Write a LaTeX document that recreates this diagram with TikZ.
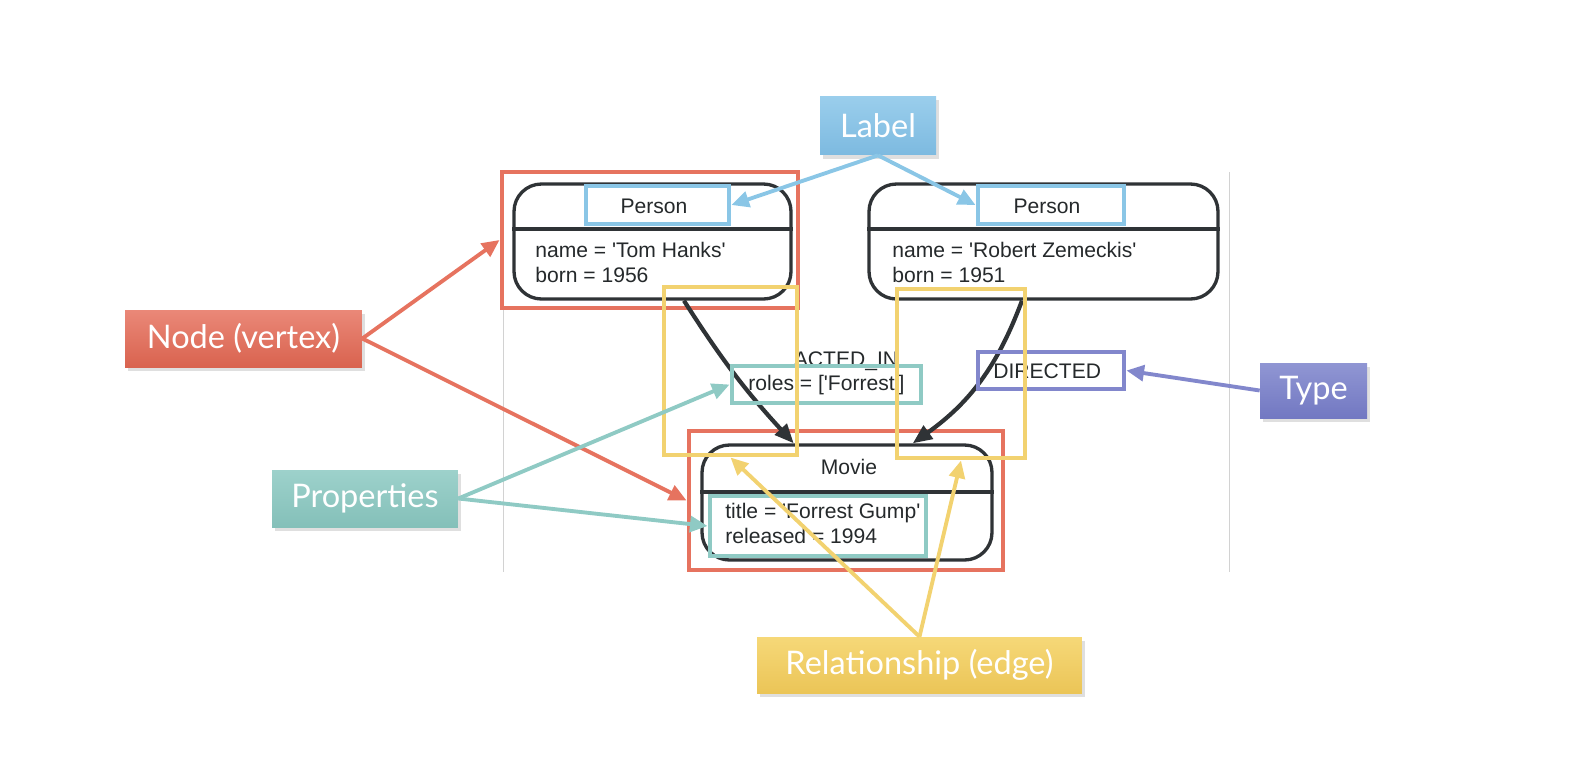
\documentclass[tikz,border=0pt]{standalone}
\usepackage{fontspec}
\setmainfont{Liberation Sans}
\newfontfamily\calloutfont{Lato}
\usetikzlibrary{arrows.meta,fit,shadows}
\definecolor{dark}{HTML}{2F3336}
\definecolor{nred}{HTML}{E6735F}
\definecolor{nblue}{HTML}{8AC6E6}
\definecolor{nteal}{HTML}{8FCAC4}
\definecolor{npurple}{HTML}{8287CC}
\definecolor{nyellow}{HTML}{F2D270}
\definecolor{redtop}{HTML}{EA8878}
\definecolor{redbot}{HTML}{D9634F}
\definecolor{bluetop}{HTML}{9ACEEC}
\definecolor{bluebot}{HTML}{7DBAE0}
\definecolor{tealtop}{HTML}{9DD1CB}
\definecolor{tealbot}{HTML}{84C0B9}
\definecolor{purpletop}{HTML}{9096D3}
\definecolor{purplebot}{HTML}{7278C2}
\definecolor{yellowtop}{HTML}{F6D878}
\definecolor{yellowbot}{HTML}{EBC557}
\newcommand{\sq}{\textquotesingle}

\begin{document}
\begin{tikzpicture}[x=0.02cm,y=-0.02cm,
	entity/.style={draw=dark,line width=1.9pt,rounded corners=0.55cm,inner sep=0pt},
	txt/.style={font=\fontsize{12}{13.7}\selectfont,text=dark!80!black,inner sep=0pt},
	hibox/.style={draw=#1,line width=2.8pt,inner sep=0pt},
	callout/.style={top color=#1top,bottom color=#1bot,text=white,
		font=\calloutfont\fontsize{18.5}{20}\selectfont,
		drop shadow={opacity=0.25,shadow xshift=1.5pt,shadow yshift=-2.5pt}},
	pointer/.style={draw=#1,line width=2.2pt,-{Triangle[length=10pt,width=9pt]}},
	edge/.style={draw=dark,line width=2.4pt,-{Triangle[length=11pt,width=9pt]}}]
	\useasboundingbox (0,0) rectangle (1572,768);
	\draw[gray!35] (503,172) -- (503,572) (1229,172) -- (1229,572);
	% the graph
	\node[entity,fit={(514,184) (791,299)}] (tom) {};
	\node[entity,fit={(869,184) (1218,299)}] (bob) {};
	\node[entity,fit={(702,445) (992,560)}] (movie) {};
	\foreach \N/\Y in {tom/229,bob/229,movie/492}
	{\draw[dark,line width=1.9pt] (\N.west |- 0,\Y) -- (\N.east |- 0,\Y);}
	\node[txt,anchor=base] (tomtype) at (654,213) {Person};
	\node[txt,anchor=base] (bobtype) at (1047,213) {Person};
	\node[txt,anchor=base] (movietype) at (849,474) {Movie};
	\node[txt,anchor=base west,align=left] (tomprops) at (535,282)
	{name = \sq Tom Hanks\sq\\born = 1956};
	\node[txt,anchor=base west,align=left] (bobprops) at (892,282)
	{name = \sq Robert Zemeckis\sq\\born = 1951};
	\node[txt,anchor=base west,align=left] (movieprops) at (725,543)
	{title = \sq Forrest Gump\sq\\released = 1994};
	\node[txt,anchor=base] (actedlab) at (846,366) {ACTED\_IN};
	\node[txt,anchor=base west] (roleslab) at (748,390) {roles = [\sq Forrest\sq]};
	\node[txt,anchor=base west] (dirlab) at (993,378) {DIRECTED};
	% highlights
	\node[hibox=nred,fit={(502,172) (798,308)}] (hitom) {};
	\node[hibox=nred,fit={(689,431) (1003,570)}] (himovie) {};
	\draw[edge] (tom.-62) to[bend right=5] (movie.132);
	\draw[edge] (bob.-110) to[bend left=17] (movie.42);
	\node[hibox=nblue,fit={(586,186) (729,224)}] (hitype1) {};
	\node[hibox=nblue,fit={(978,186) (1124,224)}] (hitype2) {};
	\node[hibox=nteal,fit={(732,366) (921,403)}] (hiroles) {};
	\node[hibox=nteal,fit={(710,496) (926,556)}] (hiprops) {};
	\node[hibox=npurple,fit={(978,352) (1124,389)}] (hidir) {};
	\node[hibox=nyellow,fit={(664,287) (797,455)}] (hirel1) {};
	\node[hibox=nyellow,fit={(897,289) (1025,458)}] (hirel2) {};
	% callouts
	\node[callout=blue,minimum width=2.32cm,minimum height=1.18cm] (label) at (878,125.5) {Label};
	\node[callout=red,minimum width=4.74cm,minimum height=1.14cm] (vertex) at (243.5,338.5) {Node (vertex)};
	\node[callout=teal,minimum width=3.72cm,minimum height=1.14cm] (props) at (365,498.5) {Properties};
	\node[callout=purple,minimum width=2.14cm,minimum height=1.1cm] (type) at (1313.5,390.5) {Type};
	\node[callout=yellow,minimum width=6.5cm,minimum height=1.12cm] (rel) at (919.5,665) {Relationship (edge)};
	\draw[pointer=nblue] (label.south) -- (hitype1.east);
	\draw[pointer=nblue] (label.south) -- (hitype2.west);
	\draw[pointer=nred] (vertex.east) -- (hitom.west);
	\draw[pointer=nred] (vertex.east) -- (himovie.west);
	\draw[pointer=nteal] (props.east) -- (hiroles.west);
	\draw[pointer=nteal] (props.east) -- (hiprops.west);
	\draw[pointer=npurple] (type.west) -- (hidir.east);
	\draw[pointer=nyellow] (rel.north) -- (hirel1.south);
	\draw[pointer=nyellow] (rel.north) -- (hirel2.south);
\end{tikzpicture}
\end{document}
